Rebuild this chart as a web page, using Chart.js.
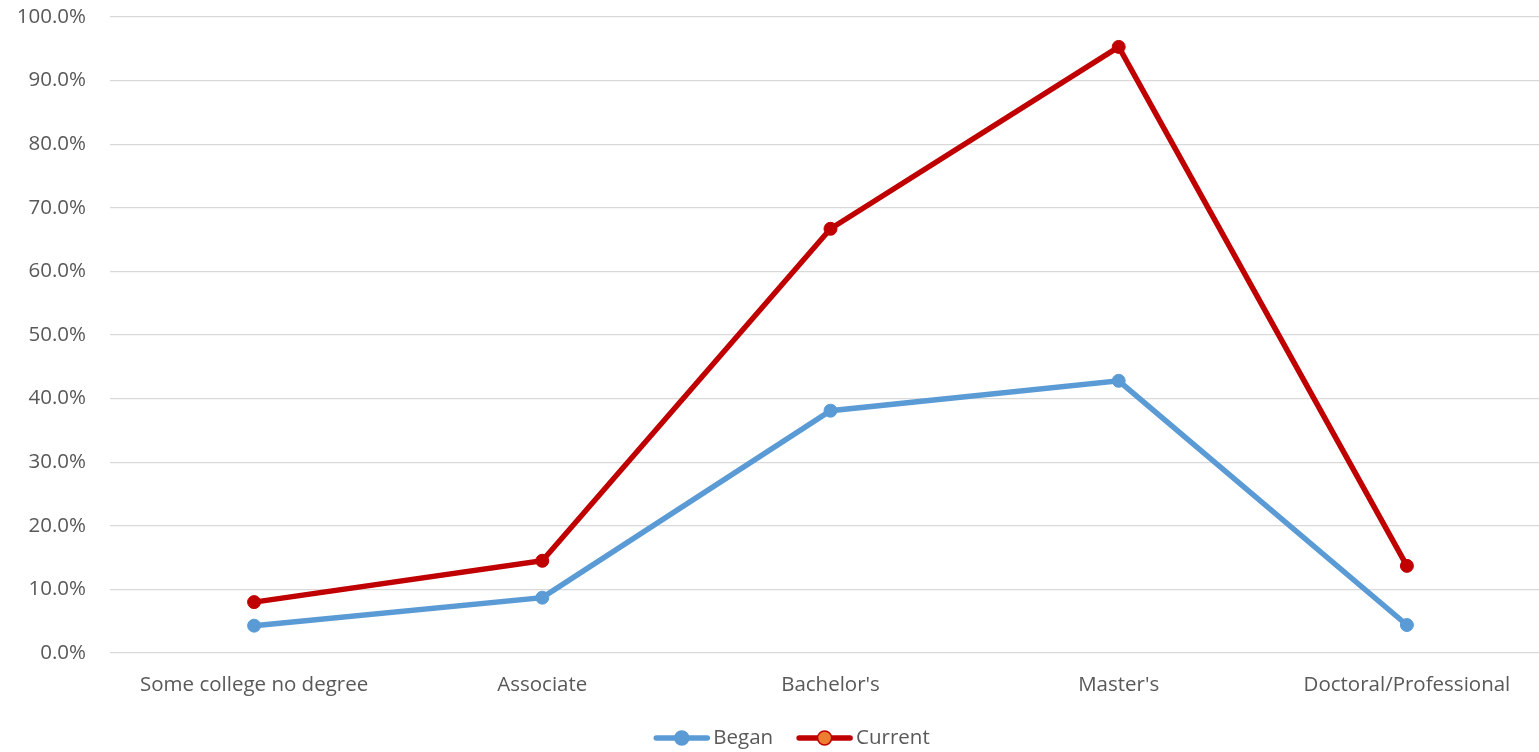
<!DOCTYPE html>
<html>
<head>
<meta charset="utf-8">
<script src="https://cdn.jsdelivr.net/npm/chart.js@4"></script>
<style>
  html, body { margin: 0; padding: 0; background: #fff; overflow: hidden; }
  #wrap { width: 1551px; height: 752px; position: relative; }
</style>
</head>
<body>
<div id="wrap"><canvas id="chart"></canvas></div>
<script>
// Degree levels along the x axis
const categories = ["Some college no degree", "Associate", "Bachelor's", "Master's", "Doctoral/Professional"];
// Share (%) at the start and currently
const beganValues = [4.3, 8.7, 38.1, 42.8, 4.4];
const currentValues = [8.0, 14.5, 66.7, 95.3, 13.7];
// Y axis range and step (%)
const yMin = 0, yMax = 100, yStep = 10;

const FONT = "'Open Sans', 'Liberation Sans', sans-serif";
const FONT_SIZE = 20.5;
const TEXT = '#595959';
const BLUE = '#5B9BD5';
const RED = '#C00000';
const ORANGE = '#ED7D31';

// Legend drawn under the axis: line with a round marker, then the label
const lineLegend = {
  id: 'lineLegend',
  afterDraw(chart) {
    const ctx = chart.ctx;
    const items = [
      { text: 'Began', stroke: BLUE, fill: BLUE },
      { text: 'Current', stroke: RED, fill: ORANGE }
    ];
    const y = 738;
    const lineLen = 55, gap = 4, itemGap = 24;
    ctx.save();
    ctx.font = FONT_SIZE + 'px ' + FONT;
    const widths = items.map(it => lineLen + gap + ctx.measureText(it.text).width);
    const total = widths.reduce((a, b) => a + b, 0) + itemGap * (items.length - 1);
    let x = 792 - total / 2;
    items.forEach((it, i) => {
      ctx.strokeStyle = it.stroke;
      ctx.lineWidth = 5.5;
      ctx.lineCap = 'round';
      ctx.beginPath();
      ctx.moveTo(x + 2, y);
      ctx.lineTo(x + lineLen - 2, y);
      ctx.stroke();
      ctx.beginPath();
      ctx.arc(x + lineLen / 2, y, 7, 0, Math.PI * 2);
      ctx.fillStyle = it.fill;
      ctx.fill();
      ctx.lineWidth = 1.5;
      ctx.strokeStyle = it.stroke;
      ctx.stroke();
      ctx.fillStyle = TEXT;
      ctx.textAlign = 'left';
      ctx.textBaseline = 'middle';
      ctx.fillText(it.text, x + lineLen + gap, y);
      x += widths[i] + itemGap;
    });
    ctx.restore();
  }
};

function drawChart() {
  new Chart(document.getElementById('chart'), {
    type: 'line',
    data: {
      labels: categories,
      datasets: [
        {
          label: 'Began',
          data: beganValues,
          borderColor: BLUE,
          backgroundColor: BLUE,
          pointBackgroundColor: BLUE,
          pointBorderColor: BLUE,
          borderWidth: 5.5,
          pointRadius: 6.5,
          pointBorderWidth: 1,
          tension: 0
        },
        {
          label: 'Current',
          data: currentValues,
          borderColor: RED,
          backgroundColor: RED,
          pointBackgroundColor: RED,
          pointBorderColor: RED,
          borderWidth: 5.5,
          pointRadius: 6.5,
          pointBorderWidth: 1,
          tension: 0
        }
      ]
    },
    options: {
      responsive: true,
      maintainAspectRatio: false,
      animation: false,
      layout: { autoPadding: false, padding: { top: 17, left: 17, right: 0, bottom: 39 } },
      plugins: {
        legend: { display: false },
        tooltip: { enabled: false }
      },
      scales: {
        x: {
          offset: true,
          grid: { display: false, drawTicks: false },
          border: { display: false },
          ticks: { color: TEXT, font: { family: FONT, size: FONT_SIZE }, padding: 20, maxRotation: 0, autoSkip: false },
          afterFit(scale) {
            scale.height = 60;
            scale.paddingLeft = 0;
            scale.paddingRight = 0;
          }
        },
        y: {
          min: yMin,
          max: yMax,
          grid: { color: '#D9D9D9', lineWidth: 1.3, drawTicks: false },
          border: { display: false },
          ticks: {
            stepSize: yStep,
            color: TEXT,
            font: { family: FONT, size: FONT_SIZE },
            padding: 24,
            callback: v => v.toFixed(1) + '%'
          },
          afterFit(scale) {
            scale.width = 93;
            scale.paddingTop = 0;
            scale.paddingBottom = 0;
          }
        }
      }
    },
    plugins: [lineLegend]
  });
}

// Make sure the text font is ready before the layout is measured
document.fonts.load(FONT_SIZE + "px 'Open Sans'").then(drawChart, drawChart);
</script>
</body>
</html>
